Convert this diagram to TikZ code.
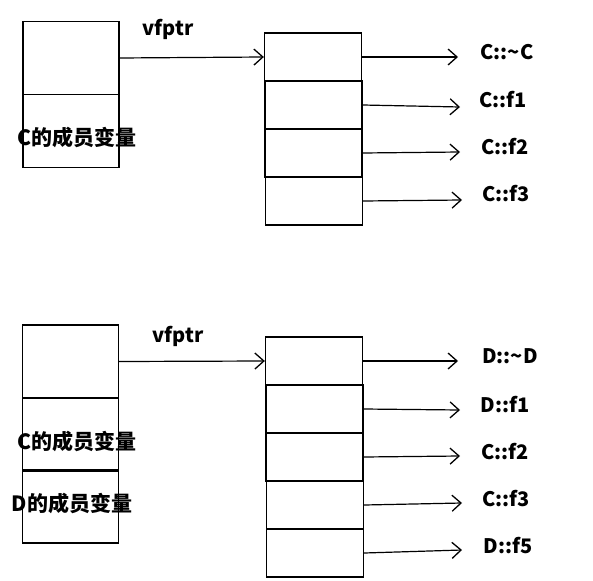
\documentclass[tikz,border=0pt]{standalone}
\usepackage{fontspec}
\setmainfont{Noto Sans CJK SC}
\usetikzlibrary{arrows.meta}
\begin{document}
\begin{tikzpicture}[x=1pt,y=-1pt,
  cell/.style={draw,line width=1.3pt,minimum width=97pt,minimum height=48pt,inner sep=0pt},
  bigcell/.style={draw,line width=1.3pt,minimum width=96pt,minimum height=73pt,inner sep=0pt},
  lbl/.style={font=\bfseries\fontsize{20}{22}\selectfont,inner sep=0pt},
  mem/.style={font=\bfseries\fontsize{21}{23}\selectfont,inner sep=0pt},
  ptr/.style={line width=1.2pt,-{Straight Barb[length=9pt,width=16pt,line width=1.3pt]}}]
\useasboundingbox (0,0) rectangle (593,580);
% ---- top: class C ----
\node[bigcell] (ca) at (71,58) {};
\node[bigcell] (cb) at (71,131) {};
\node[mem] (cbt) at (77,137) {C的成员变量};
\node[cell] (v1) at (313,57) {};
\node[cell] (v2) at (313.5,105) {};
\node[cell] (v3) at (313.5,153) {};
\node[cell] (v4) at (314,201) {};
\node[lbl] (vp1) at (168,29) {vfptr};
\draw[ptr] (ca.east) -- (v1.west);
\node[lbl] (l1) at (507,52) {C::\textasciitilde C};
\node[lbl] (l2) at (503,100) {C::f1};
\node[lbl] (l3) at (505,147) {C::f2};
\node[lbl] (l4) at (506,194) {C::f3};
\coordinate (e1) at (458,57);
\coordinate (e2) at (460,107);
\coordinate (e3) at (460,152);
\coordinate (e4) at (462,200);
\draw[ptr] (v1.east) -- (e1);
\draw[ptr] (v2.east) -- (e2);
\draw[ptr] (v3.east) -- (e3);
\draw[ptr] (v4.east) -- (e4);
% ---- bottom: class D ----
\node[bigcell] (da) at (70.5,361.5) {};
\node[bigcell] (db) at (70.5,434.5) {};
\node[bigcell] (dc) at (70.5,506.5) {};
\node[mem] (dbt) at (77,441) {C的成员变量};
\node[mem] (dct) at (72,503) {D的成员变量};
\node[cell] (w1) at (314,361) {};
\node[cell] (w2) at (314.5,409) {};
\node[cell] (w3) at (314.5,457) {};
\node[cell] (w4) at (315,505) {};
\node[cell] (w5) at (315,553) {};
\node[lbl] (vp2) at (178,336) {vfptr};
\draw[ptr] (da.east) -- (w1.west);
\node[lbl] (m1) at (510,356) {D::\textasciitilde D};
\node[lbl] (m2) at (505,405) {D::f1};
\node[lbl] (m3) at (505,452) {C::f2};
\node[lbl] (m4) at (506,499) {C::f3};
\node[lbl] (m5) at (508,546) {D::f5};
\coordinate (f1) at (458,361);
\coordinate (f2) at (460,410);
\coordinate (f3) at (460,456);
\coordinate (f4) at (462,503);
\coordinate (f5) at (462,550);
\draw[ptr] (w1.east) -- (f1);
\draw[ptr] (w2.east) -- (f2);
\draw[ptr] (w3.east) -- (f3);
\draw[ptr] (w4.east) -- (f4);
\draw[ptr] (w5.east) -- (f5);
\end{tikzpicture}
\end{document}
